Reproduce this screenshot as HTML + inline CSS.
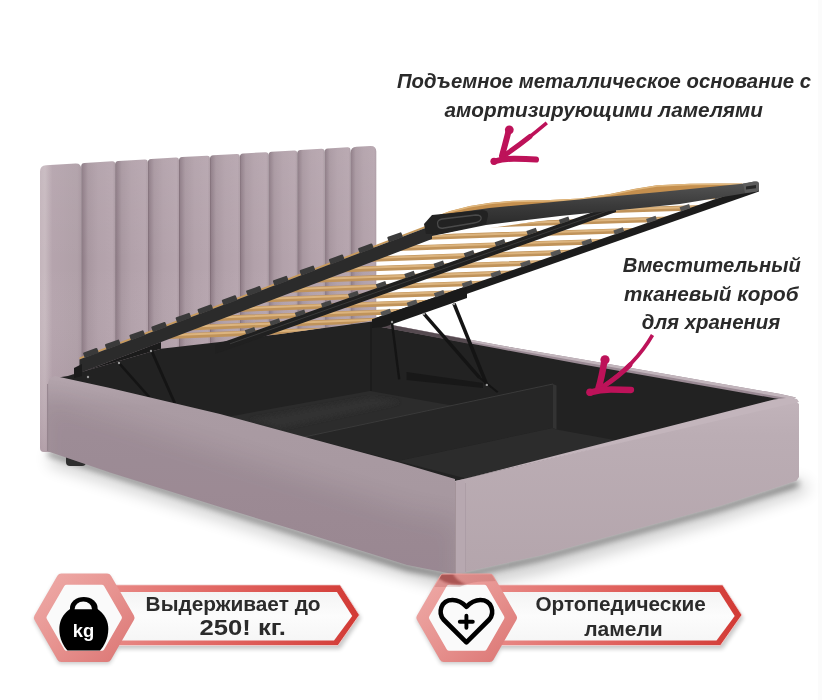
<!DOCTYPE html>
<html><head><meta charset="utf-8"><style>
html,body{margin:0;padding:0;background:#fff;}
#wrap{position:relative;width:822px;height:700px;overflow:hidden;}
svg{position:absolute;left:0;top:0;display:block;will-change:transform;}
</style></head><body><div id="wrap">
<svg width="822" height="700" viewBox="0 0 822 700">

<defs>
 <linearGradient id="ch" x1="0" x2="1" y1="0" y2="0">
  <stop offset="0" stop-color="#76636d"/>
  <stop offset="0.035" stop-color="#8f7d87"/>
  <stop offset="0.2" stop-color="#a897a0"/>
  <stop offset="0.5" stop-color="#b2a1aa"/>
  <stop offset="0.92" stop-color="#b6a5ae"/>
  <stop offset="1" stop-color="#ab9aa3"/>
 </linearGradient>
 <linearGradient id="ch0" x1="0" x2="1" y1="0" y2="0">
  <stop offset="0" stop-color="#c4b5bc"/>
  <stop offset="0.12" stop-color="#c8bac0"/>
  <stop offset="0.3" stop-color="#b5a4ad"/>
  <stop offset="0.9" stop-color="#b0a0a8"/>
  <stop offset="1" stop-color="#a897a0"/>
 </linearGradient>
 <linearGradient id="lrail" x1="0" x2="0" y1="0" y2="1">
  <stop offset="0" stop-color="#b4a5ad"/>
  <stop offset="0.15" stop-color="#aa9ba3"/>
  <stop offset="1" stop-color="#a4959d"/>
 </linearGradient>
 <linearGradient id="frail" x1="0" x2="0" y1="0" y2="1">
  <stop offset="0" stop-color="#c1b3ba"/>
  <stop offset="0.2" stop-color="#bbadb4"/>
  <stop offset="1" stop-color="#b4a5ac"/>
 </linearGradient>
 <linearGradient id="ring" x1="0" x2="1" y1="0" y2="1">
  <stop offset="0" stop-color="#eeaaa7"/>
  <stop offset="0.5" stop-color="#e79390"/>
  <stop offset="1" stop-color="#dc7775"/>
 </linearGradient>
 <linearGradient id="ban" x1="0" x2="1" y1="0" y2="0">
  <stop offset="0" stop-color="#e88986"/>
  <stop offset="0.5" stop-color="#e0615d"/>
  <stop offset="1" stop-color="#d23a35"/>
 </linearGradient>
 <linearGradient id="banin" x1="0" x2="0" y1="0" y2="1">
  <stop offset="0" stop-color="#f4f4f4"/>
  <stop offset="0.5" stop-color="#fcfcfc"/>
  <stop offset="1" stop-color="#f6f6f6"/>
 </linearGradient>
 <linearGradient id="fbar" x1="0" x2="0" y1="0" y2="1">
  <stop offset="0" stop-color="#555555"/>
  <stop offset="0.45" stop-color="#3a3a3a"/>
  <stop offset="1" stop-color="#222222"/>
 </linearGradient>
 <linearGradient id="hbv" x1="0" x2="0" y1="0" y2="1">
  <stop offset="0" stop-color="#fff" stop-opacity="0.06"/>
  <stop offset="0.4" stop-color="#fff" stop-opacity="0"/>
  <stop offset="1" stop-color="#4a1f38" stop-opacity="0.16"/>
 </linearGradient>
 <filter id="b1"><feGaussianBlur stdDeviation="1"/></filter>
 <filter id="b2"><feGaussianBlur stdDeviation="2"/></filter>
 <filter id="b3" x="-5%" y="-20%" width="110%" height="140%"><feGaussianBlur stdDeviation="3"/></filter>
 <filter id="b12" x="-20%" y="-50%" width="140%" height="200%"><feGaussianBlur stdDeviation="12"/></filter>
 <filter id="b4"><feGaussianBlur stdDeviation="4"/></filter>
 <filter id="b8"><feGaussianBlur stdDeviation="8"/></filter>
<clipPath id="hex2"><polygon points="516.7,617.7 491.7,661.0 441.7,661.0 416.7,617.7 441.7,574.4 491.7,574.4" stroke-width="6"/></clipPath><clipPath id="slatclip"><polygon points="79.5,372.0 432.0,236.0 757.0,191.0 375.6,320.0 220.0,343.0 161.0,349.0"/></clipPath>
</defs>
<rect width="822" height="700" fill="#ffffff"/>
<rect x="818" y="0" width="4" height="700" fill="#fbfbfb"/>
<polygon points="50.0,452.0 300.0,532.0 455.0,574.0 540.0,556.0 720.0,506.0 800.0,480.0 810.0,490.0 720.0,520.0 540.0,572.0 455.0,590.0 300.0,545.0 50.0,464.0" fill="#000" opacity="0.22" filter="url(#b8)"/>
<polygon points="48.0,451.0 300.0,531.6 407.0,565.0 455.0,574.4 540.5,555.4 631.0,530.5 721.5,505.6 798.5,480.7 798.0,486.0 721.5,510.0 631.0,535.0 540.5,560.0 455.0,579.0 407.0,570.0 300.0,536.0 48.0,455.0" fill="#000" opacity="0.55" filter="url(#b3)"/>
<path d="M81.3,452 L44.0,452 Q40.0,452 40.0,448 L40.0,171.6 Q40.0,165.6 46.0,165.2 L75.3,163.5 Q81.3,163.1 81.3,169.1 Z" fill="url(#ch0)"/>
<path d="M81.3,452 L81.3,166.3 Q81.3,163.1 84.5,163.0 L112.0,161.3 Q115.2,161.1 115.2,164.3 L115.2,452 Z" fill="url(#ch)"/>
<path d="M115.2,452 L115.2,164.3 Q115.2,161.1 118.4,160.9 L144.7,159.4 Q147.9,159.2 147.9,162.4 L147.9,452 Z" fill="url(#ch)"/>
<path d="M147.9,452 L147.9,162.4 Q147.9,159.2 151.1,159.0 L175.8,157.5 Q179.0,157.3 179.0,160.5 L179.0,452 Z" fill="url(#ch)"/>
<path d="M179.0,452 L179.0,160.5 Q179.0,157.3 182.2,157.1 L206.8,155.7 Q210.0,155.5 210.0,158.7 L210.0,452 Z" fill="url(#ch)"/>
<path d="M210.0,452 L210.0,158.7 Q210.0,155.5 213.2,155.3 L236.7,153.9 Q239.9,153.7 239.9,156.9 L239.9,452 Z" fill="url(#ch)"/>
<path d="M239.9,452 L239.9,156.9 Q239.9,153.7 243.1,153.5 L265.3,152.2 Q268.5,152.0 268.5,155.2 L268.5,452 Z" fill="url(#ch)"/>
<path d="M268.5,452 L268.5,155.2 Q268.5,152.0 271.7,151.8 L294.1,150.5 Q297.3,150.3 297.3,153.5 L297.3,452 Z" fill="url(#ch)"/>
<path d="M297.3,452 L297.3,153.5 Q297.3,150.3 300.5,150.1 L321.4,148.8 Q324.6,148.7 324.6,151.9 L324.6,452 Z" fill="url(#ch)"/>
<path d="M324.6,452 L324.6,151.9 Q324.6,148.7 327.8,148.5 L347.3,147.3 Q350.5,147.1 350.5,150.3 L350.5,452 Z" fill="url(#ch)"/>
<path d="M350.5,452 L350.5,153.1 Q350.5,147.1 356.5,146.8 L370.3,145.9 Q376.3,145.6 376.3,151.6 L376.3,452 Z" fill="url(#ch)"/>
<path d="M40,140 L376.5,140 L376.5,452 L44,452 Q40,452 40,448 Z" fill="url(#hbv)"/>
<polygon points="55.0,378.0 67.8,376.0 161.0,348.7 220.0,342.0 376.0,321.0 385.0,325.0 580.0,360.0 790.0,397.0 790.0,420.0 466.0,500.0 55.0,400.0" fill="#222222"/>
<polygon points="227.0,417.0 370.0,391.0 452.0,405.5 304.0,437.0" fill="#2c2c2c"/>
<polygon points="250.0,420.0 372.0,398.0 400.0,402.0 280.0,428.0" fill="#313131" filter="url(#b2)"/>
<line x1="371" y1="322" x2="371" y2="391" stroke="#1c1c1c" stroke-width="2"/>
<polygon points="304.0,437.0 553.0,384.0 556.0,386.0 556.0,429.0 553.0,428.0 398.0,461.0" fill="#262626"/>
<polygon points="553.0,384.0 556.5,385.5 556.5,429.5 553.0,428.0" fill="#333333"/>
<line x1="304" y1="437" x2="553" y2="384" stroke="#3a3a3a" stroke-width="1"/>
<polygon points="553.0,428.0 556.5,429.5 620.0,441.0 466.0,478.5 398.0,461.0" fill="#2c2c2c"/>
<polygon points="376.0,322.0 500.0,345.3 580.0,359.0 780.3,394.0 796.0,397.5 790.0,401.0 580.0,364.0 500.0,349.0 376.0,326.0" fill="#9a8a94"/>
<polygon points="376.0,322.0 500.0,345.3 580.0,359.0 780.3,394.0 796.0,397.5 792.0,399.0 580.0,361.5 500.0,347.3 376.0,324.0" fill="#c2b5bc"/>
<polygon points="376.0,322.0 470.0,340.0 470.0,344.0 376.0,326.0" fill="#554a50"/>
<polygon points="434.0,217.0 450.0,211.0 470.0,206.0 490.0,202.8 512.0,200.8 550.0,200.0 580.0,198.4 610.0,194.0 635.0,188.8 657.0,185.2 690.0,183.7 720.0,183.5 742.0,183.6 745.0,185.0 660.0,193.5 600.0,199.0 548.0,204.0 489.5,209.5 432.0,217.5" fill="#c48f4e"/>
<polyline points="434.0,217.8 450.0,211.8 470.0,206.8 490.0,203.6 512.0,201.6 550.0,200.8 580.0,199.2 610.0,194.8 635.0,189.6 657.0,186.0 690.0,184.5 720.0,184.3 742.0,184.4" fill="none" stroke="#e0b77d" stroke-width="1.4"/>
<g clip-path="url(#slatclip)"><path d="M60,340.9 Q420.0,325.3 780,315.7" stroke="#c0935a" stroke-width="5.2" fill="none"/><path d="M60,339.9 Q420.0,324.3 780,314.7" stroke="#dcb47e" stroke-width="2" fill="none"/><path d="M60,333.1 Q420.0,317.5 780,307.9" stroke="#c0935a" stroke-width="5.2" fill="none"/><path d="M60,332.1 Q420.0,316.5 780,306.9" stroke="#dcb47e" stroke-width="2" fill="none"/><path d="M60,325.0 Q420.0,309.4 780,299.8" stroke="#c0935a" stroke-width="5.2" fill="none"/><path d="M60,324.0 Q420.0,308.4 780,298.8" stroke="#dcb47e" stroke-width="2" fill="none"/><path d="M60,316.7 Q420.0,301.1 780,291.5" stroke="#c0935a" stroke-width="5.2" fill="none"/><path d="M60,315.7 Q420.0,300.1 780,290.5" stroke="#dcb47e" stroke-width="2" fill="none"/><path d="M60,308.2 Q420.0,292.6 780,283.0" stroke="#c0935a" stroke-width="5.2" fill="none"/><path d="M60,307.2 Q420.0,291.6 780,282.0" stroke="#dcb47e" stroke-width="2" fill="none"/><path d="M60,299.4 Q420.0,283.8 780,274.2" stroke="#c0935a" stroke-width="5.2" fill="none"/><path d="M60,298.4 Q420.0,282.8 780,273.2" stroke="#dcb47e" stroke-width="2" fill="none"/><path d="M60,290.3 Q420.0,274.7 780,265.1" stroke="#c0935a" stroke-width="5.2" fill="none"/><path d="M60,289.3 Q420.0,273.7 780,264.1" stroke="#dcb47e" stroke-width="2" fill="none"/><path d="M60,281.0 Q420.0,265.4 780,255.8" stroke="#c0935a" stroke-width="5.2" fill="none"/><path d="M60,280.0 Q420.0,264.4 780,254.8" stroke="#dcb47e" stroke-width="2" fill="none"/><path d="M60,271.5 Q420.0,255.9 780,246.3" stroke="#c0935a" stroke-width="5.2" fill="none"/><path d="M60,270.5 Q420.0,254.9 780,245.3" stroke="#dcb47e" stroke-width="2" fill="none"/><path d="M60,261.7 Q420.0,246.1 780,236.5" stroke="#c0935a" stroke-width="5.2" fill="none"/><path d="M60,260.7 Q420.0,245.1 780,235.5" stroke="#dcb47e" stroke-width="2" fill="none"/><path d="M60,251.6 Q420.0,236.0 780,226.4" stroke="#c0935a" stroke-width="5.2" fill="none"/><path d="M60,250.6 Q420.0,235.0 780,225.4" stroke="#dcb47e" stroke-width="2" fill="none"/><path d="M60,241.3 Q420.0,225.7 780,216.1" stroke="#c0935a" stroke-width="5.2" fill="none"/><path d="M60,240.3 Q420.0,224.7 780,215.1" stroke="#dcb47e" stroke-width="2" fill="none"/><path d="M60,230.8 Q420.0,215.2 780,205.6" stroke="#c0935a" stroke-width="5.2" fill="none"/><path d="M60,229.8 Q420.0,214.2 780,204.6" stroke="#dcb47e" stroke-width="2" fill="none"/><path d="M60,220.0 Q420.0,204.4 780,194.8" stroke="#c0935a" stroke-width="5.2" fill="none"/><path d="M60,219.0 Q420.0,203.4 780,193.8" stroke="#dcb47e" stroke-width="2" fill="none"/><path d="M60,208.9 Q420.0,193.3 780,183.7" stroke="#c0935a" stroke-width="5.2" fill="none"/><path d="M60,207.9 Q420.0,192.3 780,182.7" stroke="#dcb47e" stroke-width="2" fill="none"/><path d="M60,197.6 Q420.0,182.0 780,172.4" stroke="#c0935a" stroke-width="5.2" fill="none"/><path d="M60,196.6 Q420.0,181.0 780,171.4" stroke="#dcb47e" stroke-width="2" fill="none"/></g>
<polygon points="375.6,318.0 757.0,184.5 759.0,191.5 375.6,326.0" fill="#1c1c1c"/>
<polygon points="372.0,319.3 467.0,286.0 467.0,298.0 385.0,326.7 372.0,328.0" fill="#1a1a1a"/>
<polygon points="215.0,345.0 616.0,203.9 616.0,211.9 215.0,354.0" fill="#202020"/>
<line x1="230" y1="343.8" x2="612" y2="209.3" stroke="#3a3a3a" stroke-width="1"/>
<rect x="245.7" y="327.8" width="10" height="4.5" fill="#454545" transform="rotate(-19 252.7 331.8)"/><rect x="270.4" y="319.1" width="10" height="4.5" fill="#454545" transform="rotate(-19 277.4 323.1)"/><rect x="381.3" y="309.6" width="10" height="4.5" fill="#555555" transform="rotate(-19 388.3 313.6)"/><rect x="295.7" y="310.2" width="10" height="4.5" fill="#454545" transform="rotate(-19 302.7 314.2)"/><rect x="407.6" y="300.3" width="10" height="4.5" fill="#555555" transform="rotate(-19 414.6 304.3)"/><rect x="321.9" y="300.9" width="10" height="4.5" fill="#454545" transform="rotate(-19 328.9 304.9)"/><rect x="434.8" y="290.8" width="10" height="4.5" fill="#555555" transform="rotate(-19 441.8 294.8)"/><rect x="348.9" y="291.4" width="10" height="4.5" fill="#454545" transform="rotate(-19 355.9 295.4)"/><rect x="462.7" y="281.1" width="10" height="4.5" fill="#555555" transform="rotate(-19 469.7 285.1)"/><rect x="376.7" y="281.7" width="10" height="4.5" fill="#454545" transform="rotate(-19 383.7 285.7)"/><rect x="491.4" y="271.0" width="10" height="4.5" fill="#555555" transform="rotate(-19 498.4 275.0)"/><rect x="405.2" y="271.6" width="10" height="4.5" fill="#454545" transform="rotate(-19 412.2 275.6)"/><rect x="521.0" y="260.7" width="10" height="4.5" fill="#555555" transform="rotate(-19 528.0 264.7)"/><rect x="434.5" y="261.3" width="10" height="4.5" fill="#454545" transform="rotate(-19 441.5 265.3)"/><rect x="551.3" y="250.1" width="10" height="4.5" fill="#555555" transform="rotate(-19 558.3 254.1)"/><rect x="464.7" y="250.7" width="10" height="4.5" fill="#454545" transform="rotate(-19 471.7 254.7)"/><rect x="582.4" y="239.2" width="10" height="4.5" fill="#555555" transform="rotate(-19 589.4 243.2)"/><rect x="495.6" y="239.8" width="10" height="4.5" fill="#454545" transform="rotate(-19 502.6 243.8)"/><rect x="614.3" y="228.0" width="10" height="4.5" fill="#555555" transform="rotate(-19 621.3 232.0)"/><rect x="527.3" y="228.6" width="10" height="4.5" fill="#454545" transform="rotate(-19 534.3 232.6)"/><rect x="647.0" y="216.6" width="10" height="4.5" fill="#555555" transform="rotate(-19 654.0 220.6)"/><rect x="559.8" y="217.2" width="10" height="4.5" fill="#454545" transform="rotate(-19 566.8 221.2)"/><rect x="680.5" y="204.8" width="10" height="4.5" fill="#555555" transform="rotate(-19 687.5 208.8)"/><rect x="593.1" y="205.5" width="10" height="4.5" fill="#454545" transform="rotate(-19 600.1 209.5)"/><rect x="714.8" y="192.8" width="10" height="4.5" fill="#555555" transform="rotate(-19 721.8 196.8)"/>
<polygon points="79.5,357.5 432.0,223.6 432.0,225.6 79.5,359.5" fill="#c79a5c"/>
<polygon points="79.5,359.5 432.0,225.6 432.0,239.1 79.5,373.0" fill="#2b2b2b"/>
<rect x="84.1" y="349.9" width="15" height="5.5" rx="1" fill="#3a3a3a" transform="rotate(-20 91.6 354.9)"/>
<rect x="106.0" y="341.6" width="15" height="5.5" rx="1" fill="#3a3a3a" transform="rotate(-20 113.5 346.6)"/>
<rect x="130.4" y="332.3" width="15" height="5.5" rx="1" fill="#3a3a3a" transform="rotate(-20 137.9 337.3)"/>
<rect x="152.3" y="324.0" width="15" height="5.5" rx="1" fill="#3a3a3a" transform="rotate(-20 159.8 329.0)"/>
<rect x="176.6" y="314.8" width="15" height="5.5" rx="1" fill="#3a3a3a" transform="rotate(-20 184.1 319.8)"/>
<rect x="198.5" y="306.4" width="15" height="5.5" rx="1" fill="#3a3a3a" transform="rotate(-20 206.0 311.4)"/>
<rect x="222.8" y="297.2" width="15" height="5.5" rx="1" fill="#3a3a3a" transform="rotate(-20 230.3 302.2)"/>
<rect x="247.1" y="288.0" width="15" height="5.5" rx="1" fill="#3a3a3a" transform="rotate(-20 254.6 293.0)"/>
<rect x="273.9" y="277.8" width="15" height="5.5" rx="1" fill="#3a3a3a" transform="rotate(-20 281.4 282.8)"/>
<rect x="300.7" y="267.6" width="15" height="5.5" rx="1" fill="#3a3a3a" transform="rotate(-20 308.2 272.6)"/>
<rect x="329.9" y="256.5" width="15" height="5.5" rx="1" fill="#3a3a3a" transform="rotate(-20 337.4 261.5)"/>
<rect x="359.1" y="245.4" width="15" height="5.5" rx="1" fill="#3a3a3a" transform="rotate(-20 366.6 250.4)"/>
<rect x="388.3" y="234.3" width="15" height="5.5" rx="1" fill="#3a3a3a" transform="rotate(-20 395.8 239.3)"/>
<polygon points="67.8,376.0 79.5,373.0 161.0,342.0 161.0,348.7" fill="#1b1b1b"/>
<polygon points="74.0,368.0 82.0,364.0 82.0,376.0 74.0,378.0" fill="#1b1b1b"/>
<polygon points="432.0,216.0 489.5,208.0 548.0,202.5 600.0,197.5 660.0,192.0 745.0,183.6 754.0,181.5 758.0,182.5 759.0,191.0 680.0,204.0 620.0,210.0 560.0,216.0 486.0,225.0 432.0,236.0" fill="url(#fbar)"/>
<path d="M743,183.5 L756,181.3 Q759,181.5 759,184 L759,189.5 Q758.5,191.5 756,191.8 L745,193 Z" fill="#5c5c5c"/>
<path d="M746,186.5 L756,185 L756,188.3 L746,189.6 Z" fill="#262626"/>
<path d="M424,224 L432,215 L482,210 Q489,210 488,216 L486,224 L440,234 L426,234 Z" fill="#222"/>
<path d="M438,226 Q436,220 442,219 L476,215 Q482,215 481,219 Q480,222 474,223 L444,228 Q439,229 438,226 Z" fill="none" stroke="#4a4a4a" stroke-width="1.3"/>
<line x1="118.4" y1="362.3" x2="149.5" y2="397.3" stroke="#141414" stroke-width="2.5"/>
<line x1="151.5" y1="350.6" x2="174.8" y2="403.2" stroke="#141414" stroke-width="2.8"/>
<line x1="391.9" y1="322" x2="399.2" y2="379.4" stroke="#141414" stroke-width="2.4"/>
<line x1="423.8" y1="313.7" x2="479.5" y2="377.6" stroke="#141414" stroke-width="3.4"/>
<line x1="454" y1="303.7" x2="486.8" y2="384.9" stroke="#141414" stroke-width="3.6"/>
<line x1="479.5" y1="377.6" x2="497.7" y2="392.2" stroke="#141414" stroke-width="2"/>
<polygon points="406.5,372.0 483.0,383.0 483.0,388.0 406.5,380.0" fill="#181818"/>
<circle cx="88" cy="377" r="1.2" fill="#9a9a9a"/>
<circle cx="119" cy="363" r="1.2" fill="#9a9a9a"/>
<circle cx="151" cy="351" r="1.2" fill="#9a9a9a"/>
<circle cx="392" cy="322" r="1.2" fill="#9a9a9a"/>
<circle cx="424" cy="314" r="1.2" fill="#9a9a9a"/>
<circle cx="454" cy="304" r="1.2" fill="#9a9a9a"/>
<circle cx="486.8" cy="384.9" r="1.2" fill="#9a9a9a"/>
<rect x="66" y="452" width="20" height="14" rx="4" fill="#2e2e2e"/>
<polygon points="47.6,384.0 49.5,378.5 55.0,376.0 110.0,388.0 220.0,414.0 400.0,462.7 455.0,479.0 455.0,574.4 407.0,565.0 300.0,531.6 220.0,507.0 110.0,472.5 47.6,451.2" fill="url(#lrail)"/>
<clipPath id="lrclip"><polygon points="47.6,384.0 49.5,378.5 55.0,376.0 110.0,388.0 220.0,414.0 400.0,462.7 455.0,479.0 455.0,574.4 407.0,565.0 300.0,531.6 220.0,507.0 110.0,472.5 47.6,451.2"/></clipPath>
<g clip-path="url(#lrclip)"><polygon points="40.0,475.0 110.0,497.0 220.0,532.0 300.0,557.0 407.0,590.0 460.0,600.0 460.0,520.0 407.0,510.0 300.0,477.0 220.0,452.0 110.0,417.0 40.0,396.0" fill="#3a1f33" opacity="0.10" filter="url(#b12)"/></g>
<line x1="47.6" y1="384" x2="47.6" y2="451" stroke="#8d7c85" stroke-width="0.8"/>
<polygon points="455.0,481.0 796.0,401.0 799.0,404.0 799.0,477.0 796.5,480.7 721.5,505.6 631.0,530.5 540.5,555.4 459.0,573.5 455.0,574.4" fill="url(#frail)"/>
<polygon points="455.0,481.0 466.0,478.5 774.0,399.5 790.0,397.5 797.0,399.0 799.0,402.0" fill="#c3b5bc"/>
<polygon points="455.0,481.0 463.0,479.5 465.0,483.0 465.0,572.5 455.0,574.4" fill="#b7a8b0"/>
<line x1="455.5" y1="482" x2="455.5" y2="574" stroke="#a39399" stroke-width="1"/>
<line x1="465.5" y1="483" x2="465.5" y2="572" stroke="#aa9ba3" stroke-width="0.8"/>
<g fill="none" stroke="#bd1259" stroke-linecap="round" stroke-linejoin="round">
<path d="M546.8,122.8 Q524,142 505,155" stroke-width="3.6" stroke-linecap="butt"/>
<path d="M530,136.5 Q518,146 505,155" stroke-width="5"/>
<path d="M508.8,130 C507,138 504,148 502,156" stroke-width="6"/>
<path d="M494,161.5 Q504,158.5 515,158.7 Q526,159 536,159.5" stroke-width="6"/>
<path d="M652.5,335 Q636,364 604,386" stroke-width="3.6" stroke-linecap="butt"/>
<path d="M630,365 Q619,376 604,386" stroke-width="5"/>
<path d="M604.5,360 C603,370 601,380 598,390" stroke-width="6.5"/>
<path d="M590,392.5 Q600,389.5 611,389.5 Q622,389.7 631,390" stroke-width="6.3"/>
</g>
<circle cx="509.3" cy="129.8" r="4.4" fill="#bd1259"/>
<circle cx="605" cy="359.8" r="4.6" fill="#bd1259"/>
<circle cx="494" cy="161.3" r="3.6" fill="#bd1259"/>
<circle cx="590" cy="392.3" r="3.8" fill="#bd1259"/>
<text x="397" y="88.3" font-family="Liberation Sans" font-weight="bold" font-style="italic" font-size="20.2" fill="#2a2a2a" textLength="414" lengthAdjust="spacingAndGlyphs">Подъемное металлическое основание с</text>
<text x="444.5" y="116.7" font-family="Liberation Sans" font-weight="bold" font-style="italic" font-size="20.2" fill="#2a2a2a" textLength="318.5" lengthAdjust="spacingAndGlyphs">амортизирующими ламелями</text>
<text x="622.8" y="272" font-family="Liberation Sans" font-weight="bold" font-style="italic" font-size="20.2" fill="#2a2a2a" textLength="178" lengthAdjust="spacingAndGlyphs">Вместительный</text>
<text x="624" y="300.8" font-family="Liberation Sans" font-weight="bold" font-style="italic" font-size="20.2" fill="#2a2a2a" textLength="174.5" lengthAdjust="spacingAndGlyphs">тканевый короб</text>
<text x="641.8" y="328.8" font-family="Liberation Sans" font-weight="bold" font-style="italic" font-size="20.2" fill="#2a2a2a" textLength="138.5" lengthAdjust="spacingAndGlyphs">для хранения</text>
<g filter="url(#b2)" opacity="0.22"><polygon points="117.0,588.0 340.0,588.0 361.0,618.0 340.0,649.0 117.0,649.0" fill="#000"/><polygon points="134.7,620.0 109.5,663.7 59.0,663.7 33.7,620.0 58.9,576.3 109.5,576.3" fill="#000"/></g><polygon points="110.0,584.9 340.1,584.9 359.4,615.0 338.0,645.5 110.0,645.5" fill="url(#ban)" stroke="#f2d6d5" stroke-width="0.8"/><polygon points="110.0,591.9 336.9,591.9 352.2,616.0 334.0,640.5 110.0,640.5" fill="url(#banin)"/><polygon points="130.0,617.7 107.1,657.4 61.3,657.4 38.4,617.7 61.3,578.0 107.1,578.0" fill="url(#ring)" stroke="url(#ring)" stroke-width="9" stroke-linejoin="round"/><polygon points="119.2,617.7 101.7,648.0 66.7,648.0 49.2,617.7 66.7,587.4 101.7,587.4" fill="#fafafa" stroke="#fafafa" stroke-width="5.5" stroke-linejoin="round"/><g fill="#000"><path d="M70,611 L70,608 A13.8,11 0 0 1 97.6,608 L97.6,611 Z"/><path d="M83.8,605 C97.5,605 108.3,615.5 108.3,629 C108.3,639 104,646 100,650.5 L67.5,650.5 C63.5,646 59.3,639 59.3,629 C59.3,615.5 70,605 83.8,605 Z"/></g><path d="M74.6,609.2 A8.7,7.6 0 0 1 92,609.2 Z" fill="#fafafa"/><text x="83.5" y="637" font-family="Liberation Sans" font-weight="bold" font-size="19" fill="#fff" text-anchor="middle" textLength="21.5" lengthAdjust="spacingAndGlyphs">kg</text><text x="145.6" y="611.2" font-family="Liberation Sans" font-weight="bold" font-size="20.3" fill="#2b2b2b" textLength="175" lengthAdjust="spacingAndGlyphs">Выдерживает до</text><text x="199.5" y="635.3" font-family="Liberation Sans" font-weight="bold" font-size="22.5" fill="#2b2b2b" textLength="86.5" lengthAdjust="spacingAndGlyphs">250! кг.</text>
<g filter="url(#b2)" opacity="0.22"><polygon points="499.5,588.0 722.5,588.0 743.5,618.0 722.5,649.0 499.5,649.0" fill="#000"/><polygon points="517.2,620.0 491.9,663.7 441.4,663.7 416.2,620.0 441.4,576.3 491.9,576.3" fill="#000"/></g><polygon points="492.5,584.9 722.6,584.9 741.9,615.0 720.5,645.5 492.5,645.5" fill="url(#ban)" stroke="#f2d6d5" stroke-width="0.8"/><polygon points="492.5,591.9 719.4,591.9 734.7,616.0 716.5,640.5 492.5,640.5" fill="url(#banin)"/><polygon points="512.5,617.7 489.6,657.4 443.8,657.4 420.9,617.7 443.8,578.0 489.6,578.0" fill="url(#ring)" stroke="url(#ring)" stroke-width="9" stroke-linejoin="round"/><polygon points="501.7,617.7 484.2,648.0 449.2,648.0 431.7,617.7 449.2,587.4 484.2,587.4" fill="#fafafa" stroke="#fafafa" stroke-width="5.5" stroke-linejoin="round"/><g fill="none" stroke="#000" stroke-width="4.6" stroke-linecap="round" stroke-linejoin="round"><path d="M466.4,642.3 L443.5,619.5 C438,613 440.5,600 452.5,600 C459,600 463,603 466.4,606.8 C470,603 474,600 480.3,600 C492.3,600 494.8,613 489.3,619.5 Z"/><path d="M466.4,615.7 L466.4,627.7 M459.8,621.7 L472.8,621.7" stroke-width="3.9"/></g><g clip-path="url(#hex2)"><path d="M430,570 L505,570 L505,581 Q470,580 460,587 L430,587 Z" fill="#7a1f1f" opacity="0.15"/><path d="M434,574 Q445,587 466,584.5 Q455,580 453,573 Z" fill="#7a1f1f" opacity="0.5" filter="url(#b1)"/></g><text x="535.4" y="610.5" font-family="Liberation Sans" font-weight="bold" font-size="20.3" fill="#2b2b2b" textLength="170.5" lengthAdjust="spacingAndGlyphs">Ортопедические</text><text x="584.2" y="635.5" font-family="Liberation Sans" font-weight="bold" font-size="20.3" fill="#2b2b2b" textLength="78.6" lengthAdjust="spacingAndGlyphs">ламели</text>
</svg>
</div></body></html>
